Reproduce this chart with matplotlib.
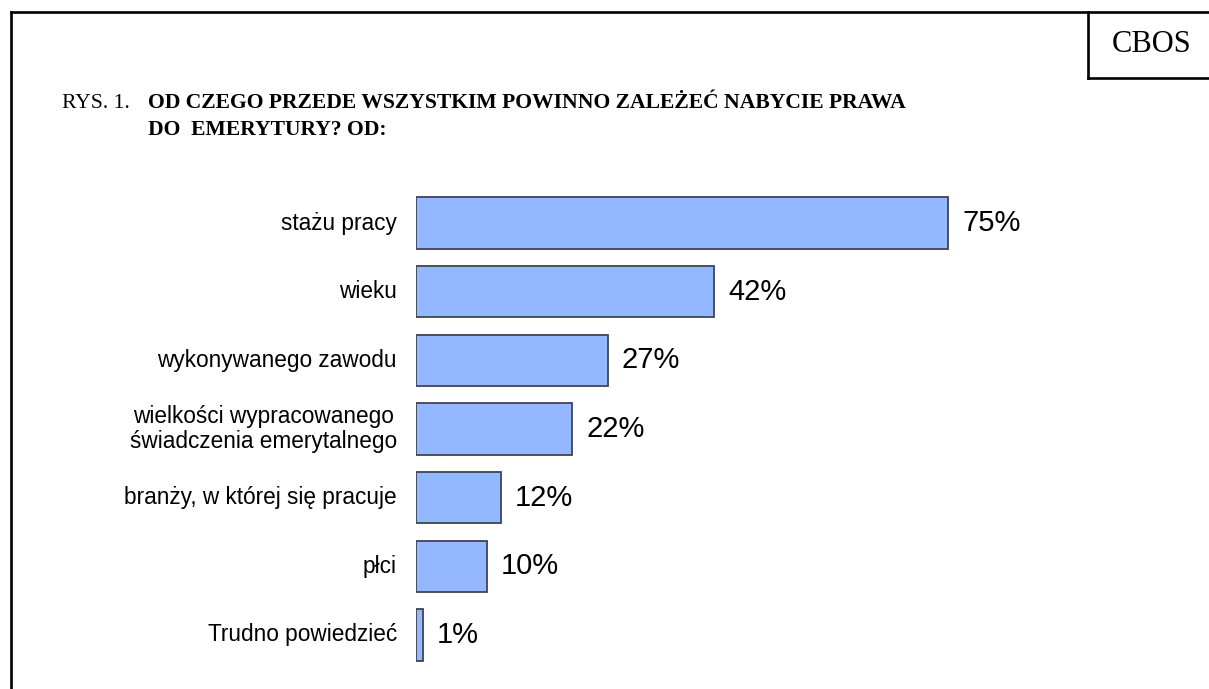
import matplotlib.pyplot as plt
from matplotlib.lines import Line2D

# data
categories = ['stażu pracy', 'wieku', 'wykonywanego zawodu',
              'wielkości wypracowanego\nświadczenia emerytalnego',
              'branży, w której się pracuje', 'płci', 'Trudno powiedzieć']
values = [75, 42, 27, 22, 12, 10, 1]

W, H = 1209, 689
fig = plt.figure(figsize=(W / 100, H / 100), dpi=100)
fig.patch.set_facecolor('white')

# frame lines (pixel coords converted to figure fraction)
def px(x, y):
    return x / W, 1 - y / H

def line(x0, y0, x1, y1):
    (a, b), (c, d) = px(x0, y0), px(x1, y1)
    fig.add_artist(Line2D([a, c], [b, d], color='black', lw=1.9,
                          transform=fig.transFigure, solid_capstyle='projecting'))

line(11, 12, W, 12)
line(11, 12, 11, H)
line(1088, 12, 1088, 78)
line(1088, 78, W, 78)

fig.text(*px(1152, 45), 'CBOS', family='Liberation Serif', fontsize=22,
         ha='center', va='center')

# title
fig.text(*px(62, 108), 'RYS. 1.', family='Liberation Serif', fontsize=15.6,
         ha='left', va='baseline')
fig.text(*px(148, 108), 'OD CZEGO PRZEDE WSZYSTKIM POWINNO ZALEŻEĆ NABYCIE PRAWA',
         family='Liberation Serif', fontsize=15.6, fontweight='bold',
         ha='left', va='baseline')
fig.text(*px(148, 135), 'DO  EMERYTURY? OD:',
         family='Liberation Serif', fontsize=15.6, fontweight='bold',
         ha='left', va='baseline')

# bar axes
top_px, bot_px = 188.7, 669.3
left_px = 416
scale = (948 - 416) / 75.0
ax = fig.add_axes([left_px / W, 1 - bot_px / H, 100 * scale / W, (bot_px - top_px) / H])
ypos = list(range(len(categories)))
ax.barh(ypos, values, height=0.75, color='#93B8FF', edgecolor='#404452', linewidth=1.3)
ax.set_xlim(0, 100)
ax.set_ylim(len(categories) - 0.5, -0.5)
ax.axis('off')

for y, v, c in zip(ypos, values, categories):
    ax.annotate(f'{v}%', (v, y), xytext=(14, 0), textcoords='offset pixels',
                ha='left', va='center', family='Liberation Sans', fontsize=21)
    ax.annotate(c, (0, y), xytext=(-19, 0), textcoords='offset pixels',
                ha='right', va='center', family='Liberation Sans', fontsize=16.3,
                multialignment='center', linespacing=1.1)

fig.savefig('out.png', dpi=100, facecolor='white')
